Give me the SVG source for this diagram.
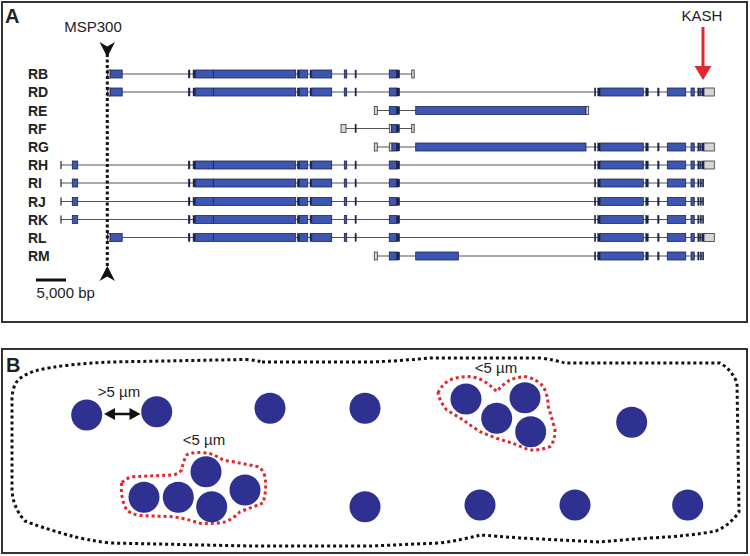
<svg xmlns="http://www.w3.org/2000/svg" xmlns:xlink="http://www.w3.org/1999/xlink" width="750" height="556" viewBox="0 0 750 556">
<style>
.frame{fill:#fff;stroke:#333;stroke-width:2}
.lbl{font-family:"Liberation Sans",Arial,sans-serif;font-weight:bold;font-size:14px;fill:#222}
.pl{font-family:"Liberation Sans",Arial,sans-serif;font-weight:bold;font-size:20px;fill:#222}
.txt{font-family:"Liberation Sans",Arial,sans-serif;font-size:15px;fill:#222}
.intr{stroke:#555;stroke-width:1.2;fill:none}
.ex{fill:#3c56b2;stroke:#1e2750;stroke-width:0.8}
.dk{fill:#1b2350;stroke:#1b2350;stroke-width:0.4}
.gr{fill:#d6d6d6;stroke:#333;stroke-width:0.8}
.nuc{fill:#2e3190}
.cell{fill:none;stroke:#111;stroke-width:3;stroke-dasharray:3 3}
.clu{fill:none;stroke:#e0282e;stroke-width:3;stroke-dasharray:3 3}
</style>
<defs>
<g id="mid">
<rect class="dk" x="188.2" y="-4" width="1.8" height="8"/>
<rect class="dk" x="193" y="-4" width="2.3" height="8"/>
<rect class="ex" x="195.3" y="-4" width="18" height="8"/>
<rect class="ex" x="213.6" y="-4" width="82.1" height="8"/>
<rect class="dk" x="297.3" y="-4" width="2" height="8"/>
<rect class="ex" x="299.3" y="-4" width="8.4" height="8"/>
<rect class="dk" x="310" y="-4" width="1.7" height="8"/>
<rect class="ex" x="311.7" y="-4" width="20" height="8"/>
<rect class="ex" x="344.3" y="-4" width="2.4" height="8"/>
<rect class="dk" x="355" y="-4" width="1.3" height="8"/>
<rect class="ex" x="389.3" y="-4" width="7.4" height="8"/>
<rect class="dk" x="396.7" y="-4" width="3" height="8"/>
</g>
<g id="right">
<rect class="dk" x="594.4" y="-4" width="1.4" height="8"/>
<rect class="dk" x="597.7" y="-4" width="2.3" height="8"/>
<rect class="ex" x="600" y="-4" width="43.3" height="8"/>
<rect class="dk" x="645.7" y="-4" width="2.6" height="8"/>
<rect class="dk" x="657.6" y="-4" width="1.5" height="8"/>
<rect class="ex" x="667.3" y="-4" width="18.4" height="8"/>
<rect class="ex" x="691" y="-4" width="3.3" height="8"/>
</g>
<g id="endG">
<rect class="dk" x="697.8" y="-4" width="1.2" height="8"/>
<rect class="dk" x="699.6" y="-4" width="1.2" height="8"/>
<rect class="dk" x="701.7" y="-4" width="2.3" height="8"/>
<rect class="gr" x="704" y="-4" width="10.3" height="8"/>
</g>
<g id="endT">
<rect class="dk" x="697.8" y="-4" width="1.3" height="8"/>
<rect class="dk" x="700.2" y="-4" width="1.3" height="8"/>
<rect class="dk" x="702.5" y="-4" width="1.3" height="8"/>
</g>
<g id="lead">
<rect class="gr" x="107.5" y="-4" width="2.7" height="8"/>
<rect class="ex" x="110.2" y="-4" width="12" height="8"/>
</g>
<g id="leadH">
<line x1="61" y1="-4" x2="61" y2="4" stroke="#333" stroke-width="1.3"/>
<rect class="ex" x="72.3" y="-4" width="5.4" height="8"/>
</g>
</defs>

<g id="panelA">
<rect class="frame" x="2" y="2" width="745" height="320"/>
<text class="pl" x="5" y="23">A</text>
</g>

<g id="rowlabels">
<text class="lbl" x="28" y="79">RB</text>
<text class="lbl" x="28" y="97">RD</text>
<text class="lbl" x="28" y="115.5">RE</text>
<text class="lbl" x="28" y="133.5">RF</text>
<text class="lbl" x="28" y="152">RG</text>
<text class="lbl" x="28" y="170">RH</text>
<text class="lbl" x="28" y="188">RI</text>
<text class="lbl" x="28" y="206.5">RJ</text>
<text class="lbl" x="28" y="224.5">RK</text>
<text class="lbl" x="28" y="242.5">RL</text>
<text class="lbl" x="28" y="261">RM</text>
</g>

<g id="RB" transform="translate(0,74)">
<line class="intr" x1="107.5" y1="0" x2="413" y2="0"/>
<use xlink:href="#lead"/><use xlink:href="#mid"/>
<rect class="gr" x="411.7" y="-4" width="2.5" height="8"/>
</g>
<g id="RD" transform="translate(0,92)">
<line class="intr" x1="107.5" y1="0" x2="704" y2="0"/>
<use xlink:href="#lead"/><use xlink:href="#mid"/><use xlink:href="#right"/><use xlink:href="#endG"/>
</g>
<g id="RE" transform="translate(0,110.5)">
<line class="intr" x1="374.3" y1="0" x2="586" y2="0"/>
<rect class="gr" x="374.3" y="-4" width="3" height="8"/>
<rect class="ex" x="389.3" y="-4" width="7.4" height="8"/>
<rect class="dk" x="396.7" y="-4" width="3" height="8"/>
<rect class="ex" x="415.7" y="-4" width="170.3" height="8"/>
<rect class="gr" x="586" y="-4" width="2.7" height="8"/>
</g>
<g id="RF" transform="translate(0,128.5)">
<line class="intr" x1="341" y1="0" x2="413" y2="0"/>
<rect class="gr" x="341" y="-4" width="5" height="8"/>
<rect class="dk" x="355" y="-4" width="1.3" height="8"/>
<rect class="gr" x="389.3" y="-4" width="2.4" height="8"/>
<rect class="ex" x="391.7" y="-4" width="5" height="8"/>
<rect class="dk" x="396.7" y="-4" width="2.8" height="8"/>
<rect class="gr" x="411.7" y="-4" width="2.5" height="8"/>
</g>
<g id="RG" transform="translate(0,147)">
<line class="intr" x1="374.3" y1="0" x2="704" y2="0"/>
<rect class="gr" x="374.3" y="-4" width="3" height="8"/>
<rect class="gr" x="389.3" y="-4" width="2.7" height="8"/>
<rect class="ex" x="392" y="-4" width="4.7" height="8"/>
<rect class="dk" x="396.7" y="-4" width="3" height="8"/>
<rect class="ex" x="415.7" y="-4" width="170.3" height="8"/>
<use xlink:href="#right"/><use xlink:href="#endG"/>
</g>
<g id="RH" transform="translate(0,165)">
<line class="intr" x1="61" y1="0" x2="704" y2="0"/>
<use xlink:href="#leadH"/><use xlink:href="#mid"/><use xlink:href="#right"/><use xlink:href="#endG"/>
</g>
<g id="RI" transform="translate(0,183)">
<line class="intr" x1="61" y1="0" x2="703" y2="0"/>
<use xlink:href="#leadH"/><use xlink:href="#mid"/><use xlink:href="#right"/><use xlink:href="#endT"/>
</g>
<g id="RJ" transform="translate(0,201.5)">
<line class="intr" x1="61" y1="0" x2="703" y2="0"/>
<use xlink:href="#leadH"/><use xlink:href="#mid"/><use xlink:href="#right"/><use xlink:href="#endT"/>
</g>
<g id="RK" transform="translate(0,219.5)">
<line class="intr" x1="61" y1="0" x2="703" y2="0"/>
<use xlink:href="#leadH"/><use xlink:href="#mid"/><use xlink:href="#right"/><use xlink:href="#endT"/>
</g>
<g id="RL" transform="translate(0,237.5)">
<line class="intr" x1="107.5" y1="0" x2="704" y2="0"/>
<use xlink:href="#lead"/><use xlink:href="#mid"/><use xlink:href="#right"/><use xlink:href="#endG"/>
</g>
<g id="RM" transform="translate(0,256)">
<line class="intr" x1="374.3" y1="0" x2="703" y2="0"/>
<rect class="gr" x="374.3" y="-4" width="3" height="8"/>
<rect class="ex" x="389.3" y="-4" width="7.4" height="8"/>
<rect class="dk" x="396.7" y="-4" width="3" height="8"/>
<rect class="ex" x="415.7" y="-4" width="42.6" height="8"/>
<use xlink:href="#right"/><use xlink:href="#endT"/>
</g>

<g id="msp300">
<text class="txt" x="93" y="31.5" text-anchor="middle">MSP300</text>
<line x1="107.3" y1="54" x2="107.3" y2="270" stroke="#111" stroke-width="3" stroke-dasharray="3 2.5"/>
<polygon points="99.5,42 107.3,46.5 115,42 107.3,57" fill="#111"/>
<polygon points="107.3,266 115,281 107.3,276.5 99.5,281" fill="#111"/>
</g>

<g id="kash">
<text class="txt" x="702" y="21" text-anchor="middle">KASH</text>
<line x1="703" y1="27" x2="703" y2="68" stroke="#e0282e" stroke-width="3"/>
<polygon points="694.5,66 711.5,66 703,80" fill="#e0282e"/>
</g>

<g id="scalebar">
<line x1="36" y1="280" x2="66" y2="280" stroke="#111" stroke-width="3"/>
<text class="txt" x="36.5" y="297.5">5,000 bp</text>
</g>

<g id="panelB">
<rect class="frame" x="2" y="349" width="745" height="204"/>
<text class="pl" x="6" y="372">B</text>
</g>

<g id="cell">
<path class="cell" d="M262,362 L370,362 Q400,361 430,358 L540,358 Q555,360 565,363 L720,363 Q732,370 737,383 L739,512 Q730,525 716,531 Q690,536 650,538 Q620,540 600,542 Q560,540 520,538 Q495,536 480,535 Q462,540 440,543 L370,546 L250,546 L110,543 Q85,540 68,535 Q40,527 25,521 Q13,508 12,490 L12,398 Q13,382 22,377 Q28,373 35,371 Q50,367 70,365 Q90,363 110,362 L246,359.5 Q255,360 262,362 Z"/>
</g>

<g id="cluster1">
<path class="clu" d="M121.7,483 Q120,497 126.7,510 Q131,514 140,515.5 L173,516.7 Q187,519 200,523.3 Q214,524 226.7,521.7 Q235,517 240,511.7 Q253,507 263,503 Q267,490 265,476.7 Q263,469 258,466.7 L233,461.7 Q225,461 220,458.3 Q212,453 203,452.7 Q190,452 186.7,455 Q183,462 181.7,470 Q178,474 173,475 L133,476.7 Q126,478 121.7,483 Z"/>
<text class="txt" x="204" y="445" text-anchor="middle">&lt;5 µm</text>
</g>

<g id="cluster2">
<path class="clu" d="M438,393 Q442,384 450,380 Q460,376 470,376.7 Q484,378 496.7,391.7 Q503,384 510,380 Q518,376.5 526.7,376.7 Q538,380 543.3,386.7 Q548,395 548.3,406.7 Q552,418 555,430 Q555,441 550,446.7 Q540,450.5 530,450 Q521,447 513,443.3 L496.7,438.3 Q488,435 480,431.7 Q471,426 463.3,420 Q455,415 446.7,410 Q440,402 438,393 Z"/>
<text class="txt" x="496" y="373" text-anchor="middle">&lt;5 µm</text>
</g>

<g id="nuclei">
<circle class="nuc" cx="86.7" cy="415" r="15.5"/>
<circle class="nuc" cx="156.7" cy="411.7" r="15.5"/>
<circle class="nuc" cx="270" cy="408.3" r="15.5"/>
<circle class="nuc" cx="365" cy="408.3" r="15.5"/>
<circle class="nuc" cx="144" cy="497.3" r="15.5"/>
<circle class="nuc" cx="178.3" cy="497.3" r="15.5"/>
<circle class="nuc" cx="206" cy="471.7" r="15.5"/>
<circle class="nuc" cx="211.7" cy="506.7" r="15.5"/>
<circle class="nuc" cx="245" cy="490" r="15.5"/>
<circle class="nuc" cx="365" cy="506.7" r="15.5"/>
<circle class="nuc" cx="466" cy="399" r="15.5"/>
<circle class="nuc" cx="525" cy="397.7" r="15.5"/>
<circle class="nuc" cx="496.7" cy="418.3" r="15.5"/>
<circle class="nuc" cx="530.7" cy="431.7" r="15.5"/>
<circle class="nuc" cx="631.7" cy="422.3" r="15.5"/>
<circle class="nuc" cx="480" cy="505" r="15.5"/>
<circle class="nuc" cx="575" cy="505" r="15.5"/>
<circle class="nuc" cx="687.7" cy="505" r="15.5"/>
</g>

<g id="connectors">
<line x1="111" y1="414" x2="133" y2="414" stroke="#111" stroke-width="2.5"/>
<polygon points="104,414 115,408 115,420" fill="#111"/>
<polygon points="140.5,414 129.5,408 129.5,420" fill="#111"/>
<text class="txt" x="119" y="397" text-anchor="middle">&gt;5 µm</text>
</g>
</svg>
